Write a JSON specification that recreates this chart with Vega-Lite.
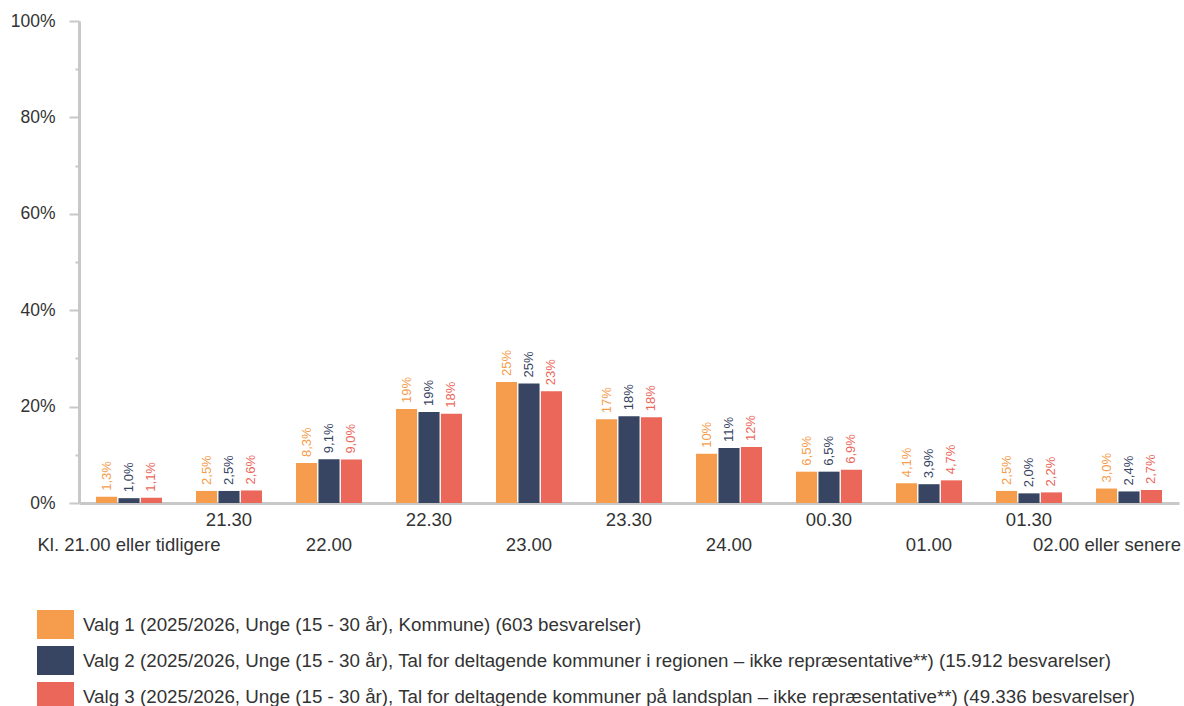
{
  "$schema": "https://vega.github.io/schema/vega-lite/v6.json",
  "width": 1100,
  "height": 482,
  "autosize": {"type": "none"},
  "padding": {"left": 79, "top": 21, "right": 5, "bottom": 203},
  "background": "white",
  "config": {"font": "Liberation Sans", "view": {"stroke": null}},
  "datasets": {
    "rows": [
      {"time": "Kl. 21.00 eller tidligere", "series": "Valg 1 (2025/2026, Unge (15 - 30 år), Kommune) (603 besvarelser)", "value": 1.3, "label": "1,3%"},
      {"time": "Kl. 21.00 eller tidligere", "series": "Valg 2 (2025/2026, Unge (15 - 30 år), Tal for deltagende kommuner i regionen – ikke repræsentative**) (15.912 besvarelser)", "value": 1.0, "label": "1,0%"},
      {"time": "Kl. 21.00 eller tidligere", "series": "Valg 3 (2025/2026, Unge (15 - 30 år), Tal for deltagende kommuner på landsplan – ikke repræsentative**) (49.336 besvarelser)", "value": 1.1, "label": "1,1%"},
      {"time": "21.30", "series": "Valg 1 (2025/2026, Unge (15 - 30 år), Kommune) (603 besvarelser)", "value": 2.5, "label": "2,5%"},
      {"time": "21.30", "series": "Valg 2 (2025/2026, Unge (15 - 30 år), Tal for deltagende kommuner i regionen – ikke repræsentative**) (15.912 besvarelser)", "value": 2.5, "label": "2,5%"},
      {"time": "21.30", "series": "Valg 3 (2025/2026, Unge (15 - 30 år), Tal for deltagende kommuner på landsplan – ikke repræsentative**) (49.336 besvarelser)", "value": 2.6, "label": "2,6%"},
      {"time": "22.00", "series": "Valg 1 (2025/2026, Unge (15 - 30 år), Kommune) (603 besvarelser)", "value": 8.3, "label": "8,3%"},
      {"time": "22.00", "series": "Valg 2 (2025/2026, Unge (15 - 30 år), Tal for deltagende kommuner i regionen – ikke repræsentative**) (15.912 besvarelser)", "value": 9.1, "label": "9,1%"},
      {"time": "22.00", "series": "Valg 3 (2025/2026, Unge (15 - 30 år), Tal for deltagende kommuner på landsplan – ikke repræsentative**) (49.336 besvarelser)", "value": 9.0, "label": "9,0%"},
      {"time": "22.30", "series": "Valg 1 (2025/2026, Unge (15 - 30 år), Kommune) (603 besvarelser)", "value": 19.5, "label": "19%"},
      {"time": "22.30", "series": "Valg 2 (2025/2026, Unge (15 - 30 år), Tal for deltagende kommuner i regionen – ikke repræsentative**) (15.912 besvarelser)", "value": 18.9, "label": "19%"},
      {"time": "22.30", "series": "Valg 3 (2025/2026, Unge (15 - 30 år), Tal for deltagende kommuner på landsplan – ikke repræsentative**) (49.336 besvarelser)", "value": 18.5, "label": "18%"},
      {"time": "23.00", "series": "Valg 1 (2025/2026, Unge (15 - 30 år), Kommune) (603 besvarelser)", "value": 25.1, "label": "25%"},
      {"time": "23.00", "series": "Valg 2 (2025/2026, Unge (15 - 30 år), Tal for deltagende kommuner i regionen – ikke repræsentative**) (15.912 besvarelser)", "value": 24.8, "label": "25%"},
      {"time": "23.00", "series": "Valg 3 (2025/2026, Unge (15 - 30 år), Tal for deltagende kommuner på landsplan – ikke repræsentative**) (49.336 besvarelser)", "value": 23.2, "label": "23%"},
      {"time": "23.30", "series": "Valg 1 (2025/2026, Unge (15 - 30 år), Kommune) (603 besvarelser)", "value": 17.4, "label": "17%"},
      {"time": "23.30", "series": "Valg 2 (2025/2026, Unge (15 - 30 år), Tal for deltagende kommuner i regionen – ikke repræsentative**) (15.912 besvarelser)", "value": 18.0, "label": "18%"},
      {"time": "23.30", "series": "Valg 3 (2025/2026, Unge (15 - 30 år), Tal for deltagende kommuner på landsplan – ikke repræsentative**) (49.336 besvarelser)", "value": 17.8, "label": "18%"},
      {"time": "24.00", "series": "Valg 1 (2025/2026, Unge (15 - 30 år), Kommune) (603 besvarelser)", "value": 10.2, "label": "10%"},
      {"time": "24.00", "series": "Valg 2 (2025/2026, Unge (15 - 30 år), Tal for deltagende kommuner i regionen – ikke repræsentative**) (15.912 besvarelser)", "value": 11.4, "label": "11%"},
      {"time": "24.00", "series": "Valg 3 (2025/2026, Unge (15 - 30 år), Tal for deltagende kommuner på landsplan – ikke repræsentative**) (49.336 besvarelser)", "value": 11.6, "label": "12%"},
      {"time": "00.30", "series": "Valg 1 (2025/2026, Unge (15 - 30 år), Kommune) (603 besvarelser)", "value": 6.5, "label": "6,5%"},
      {"time": "00.30", "series": "Valg 2 (2025/2026, Unge (15 - 30 år), Tal for deltagende kommuner i regionen – ikke repræsentative**) (15.912 besvarelser)", "value": 6.5, "label": "6,5%"},
      {"time": "00.30", "series": "Valg 3 (2025/2026, Unge (15 - 30 år), Tal for deltagende kommuner på landsplan – ikke repræsentative**) (49.336 besvarelser)", "value": 6.9, "label": "6,9%"},
      {"time": "01.00", "series": "Valg 1 (2025/2026, Unge (15 - 30 år), Kommune) (603 besvarelser)", "value": 4.1, "label": "4,1%"},
      {"time": "01.00", "series": "Valg 2 (2025/2026, Unge (15 - 30 år), Tal for deltagende kommuner i regionen – ikke repræsentative**) (15.912 besvarelser)", "value": 3.9, "label": "3,9%"},
      {"time": "01.00", "series": "Valg 3 (2025/2026, Unge (15 - 30 år), Tal for deltagende kommuner på landsplan – ikke repræsentative**) (49.336 besvarelser)", "value": 4.7, "label": "4,7%"},
      {"time": "01.30", "series": "Valg 1 (2025/2026, Unge (15 - 30 år), Kommune) (603 besvarelser)", "value": 2.5, "label": "2,5%"},
      {"time": "01.30", "series": "Valg 2 (2025/2026, Unge (15 - 30 år), Tal for deltagende kommuner i regionen – ikke repræsentative**) (15.912 besvarelser)", "value": 2.0, "label": "2,0%"},
      {"time": "01.30", "series": "Valg 3 (2025/2026, Unge (15 - 30 år), Tal for deltagende kommuner på landsplan – ikke repræsentative**) (49.336 besvarelser)", "value": 2.2, "label": "2,2%"},
      {"time": "02.00 eller senere", "series": "Valg 1 (2025/2026, Unge (15 - 30 år), Kommune) (603 besvarelser)", "value": 3.0, "label": "3,0%"},
      {"time": "02.00 eller senere", "series": "Valg 2 (2025/2026, Unge (15 - 30 år), Tal for deltagende kommuner i regionen – ikke repræsentative**) (15.912 besvarelser)", "value": 2.4, "label": "2,4%"},
      {"time": "02.00 eller senere", "series": "Valg 3 (2025/2026, Unge (15 - 30 år), Tal for deltagende kommuner på landsplan – ikke repræsentative**) (49.336 besvarelser)", "value": 2.7, "label": "2,7%"}
    ]
  },
  "data": {"name": "rows"},
  "encoding": {
    "x": {
      "field": "time",
      "type": "nominal",
      "sort": null,
      "scale": {"paddingInner": 0.34, "paddingOuter": 0.17},
      "axis": {
        "title": null,
        "labelAngle": 0,
        "ticks": false,
        "domainColor": "#c8c8c8",
        "domainWidth": 3,
        "labelFontSize": 18.5,
        "labelColor": "#333333",
        "labelPadding": 7,
        "labelBaseline": "top",
        "labelLineHeight": 25,
        "labelLimit": 0,
        "labelOverlap": false,
        "labelBound": false,
        "labelOffset": {"condition": {"test": "datum.value == '02.00 eller senere'", "value": -22}, "value": 0},
        "labelExpr": "indexof(['Kl. 21.00 eller tidligere', '22.00', '23.00', '24.00', '01.00', '02.00 eller senere'], datum.value) >= 0 ? ['', datum.label] : datum.label"
      }
    },
    "xOffset": {"field": "series", "type": "nominal", "sort": null, "scale": {"paddingInner": 0.06}},
    "y": {
      "field": "value",
      "type": "quantitative",
      "scale": {"domain": [0, 100], "nice": false},
      "axis": {
        "title": null,
        "values": [0, 10, 20, 30, 40, 50, 60, 70, 80, 90, 100],
        "grid": false,
        "domainColor": "#c8c8c8",
        "domainWidth": 3,
        "tickColor": "#c8c8c8",
        "tickWidth": 2,
        "tickSize": {"condition": {"test": "datum.value % 20 != 0", "value": 4}, "value": 10},
        "labelPadding": 14,
        "labelFontSize": 17.5,
        "labelColor": "#333333",
        "labelExpr": "datum.value % 20 == 0 ? datum.value + '%' : ''"
      }
    },
    "color": {
      "field": "series",
      "type": "nominal",
      "sort": null,
      "scale": {
        "domain": [
          "Valg 1 (2025/2026, Unge (15 - 30 år), Kommune) (603 besvarelser)",
          "Valg 2 (2025/2026, Unge (15 - 30 år), Tal for deltagende kommuner i regionen – ikke repræsentative**) (15.912 besvarelser)",
          "Valg 3 (2025/2026, Unge (15 - 30 år), Tal for deltagende kommuner på landsplan – ikke repræsentative**) (49.336 besvarelser)"
        ],
        "range": ["#F59D4D", "#374563", "#EB675A"]
      },
      "legend": {
        "title": null,
        "orient": "none",
        "legendX": -42,
        "legendY": 585,
        "direction": "vertical",
        "symbolType": "M-1,-0.78H1V0.78H-1Z",
        "symbolSize": 1369,
        "symbolStrokeWidth": 0,
        "symbolOpacity": 1,
        "labelFontSize": 18.75,
        "labelColor": "#333333",
        "labelLimit": 0,
        "labelOffset": 9,
        "rowPadding": 3
      }
    }
  },
  "layer": [
    {"mark": {"type": "bar"}},
    {
      "mark": {"type": "text", "angle": -90, "align": "left", "baseline": "middle", "dx": 6, "fontSize": 13},
      "encoding": {"text": {"field": "label"}}
    }
  ]
}
